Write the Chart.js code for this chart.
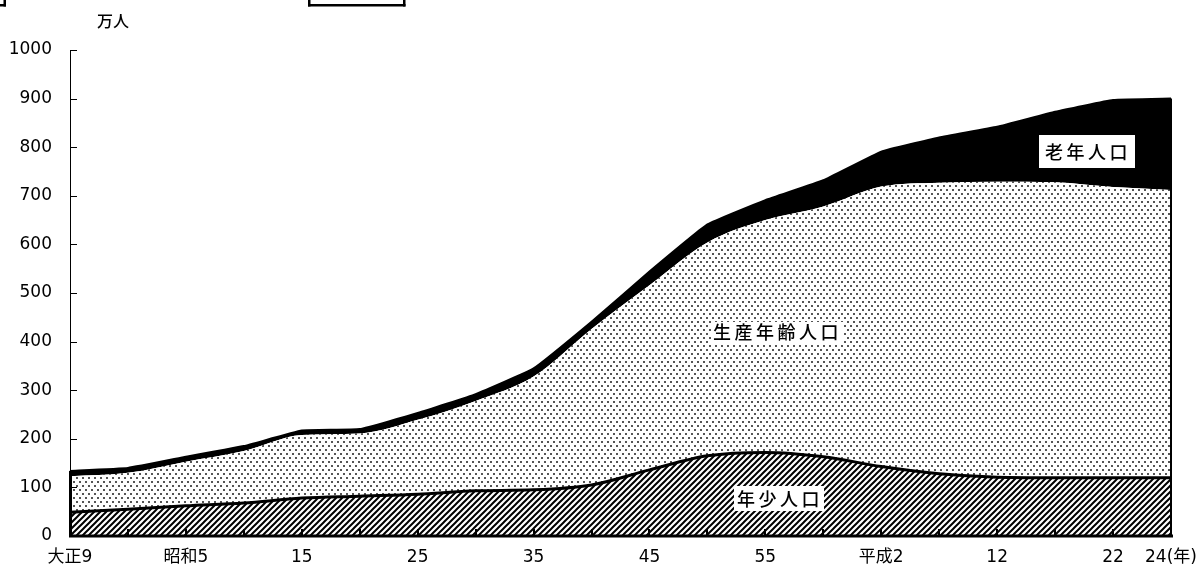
<!DOCTYPE html>
<html lang="ja">
<head>
<meta charset="utf-8">
<title>年齢3区分別人口の推移</title>
<script src="https://cdn.jsdelivr.net/npm/chart.js@4.4.0/dist/chart.umd.min.js"></script>
<style>
  html, body { margin: 0; padding: 0; background: #fff; }
  #wrap { position: relative; width: 1201px; height: 577px; }
</style>
</head>
<body>
<div id="wrap"><canvas id="c" width="1201" height="577"></canvas></div>
<script>
// 調査年（大正9年〜平成24年）
const years = ['大正9', '14', '昭和5', '10', '15', '20', '25', '30', '35', '40',
               '45', '50', '55', '60', '平成2', '7', '12', '17', '22', '24'];
// 軸に表示する目盛ラベル（空文字は非表示）
const tickLabels = ['大正9', '', '昭和5', '', '15', '', '25', '', '35', '',
                    '45', '', '55', '', '平成2', '', '12', '', '22', '24(年)'];
// 年齢3区分別人口（万人）
const youngPop   = [49, 55, 62, 68, 78, 82, 86, 93, 95, 105, 136, 165, 172, 163, 143, 128, 121, 120, 120, 120];
const workingPop = [74, 75, 91, 107, 130, 129, 153, 185, 233, 321, 380, 439, 478, 515, 576, 599, 608, 608, 598, 592];
const elderlyPop = [11, 10, 10, 10, 9, 9, 14, 14, 17, 15, 28, 37, 41, 54, 72, 93, 113, 145, 179, 188];
const seriesNames = ['年少人口', '生産年齢人口', '老年人口'];
const yTicks = { min: 0, max: 1000, step: 100 };
const unitLabel = '万人';

const canvas = document.getElementById('c');
const ctx = canvas.getContext('2d');

// 斜線ハッチ
function makeHatch() {
  const t = document.createElement('canvas');
  t.width = 6; t.height = 6;
  const g = t.getContext('2d');
  g.fillStyle = '#fff'; g.fillRect(0, 0, 6, 6);
  g.strokeStyle = '#000'; g.lineWidth = 2;
  g.beginPath();
  g.moveTo(-1, 7); g.lineTo(7, -1);
  g.moveTo(-1, 1); g.lineTo(1, -1);
  g.moveTo(5, 7); g.lineTo(7, 5);
  g.stroke();
  return ctx.createPattern(t, 'repeat');
}
// 網点
function makeDots() {
  const t = document.createElement('canvas');
  t.width = 6; t.height = 8;
  const g = t.getContext('2d');
  g.fillStyle = '#fff'; g.fillRect(0, 0, 6, 8);
  g.fillStyle = '#555';
  g.fillRect(1, 1, 2, 2);
  g.fillRect(4, 5, 2, 2);
  return ctx.createPattern(t, 'repeat');
}

const FONT = "'DejaVu Sans', 'Noto Sans CJK JP', sans-serif";

const decor = {
  id: 'decor',
  afterDatasetsDraw(chart) {
    const { ctx: c, chartArea: a, scales: { x, y } } = chart;
    const last = years.length - 1;
    const topFirst = y.getPixelForValue(youngPop[0] + workingPop[0] + elderlyPop[0]);
    const topLast = y.getPixelForValue(youngPop[last] + workingPop[last] + elderlyPop[last]);
    c.save();
    c.fillStyle = '#000';
    c.strokeStyle = '#000';
    // 縦軸
    c.lineWidth = 1;
    c.beginPath();
    c.moveTo(a.left + 0.5, a.top); c.lineTo(a.left + 0.5, a.bottom);
    c.stroke();
    // 面の左右の縁
    c.lineWidth = 3;
    c.beginPath();
    c.moveTo(a.left + 0.5, a.bottom); c.lineTo(a.left + 0.5, topFirst);
    c.stroke();
    c.lineWidth = 2;
    c.beginPath();
    c.moveTo(a.right, a.bottom); c.lineTo(a.right, topLast);
    c.stroke();
    // 縦軸目盛（内向き）
    c.lineWidth = 1;
    for (let v = yTicks.min + yTicks.step; v <= yTicks.max; v += yTicks.step) {
      const py = Math.round(y.getPixelForValue(v)) + 0.5;
      c.beginPath(); c.moveTo(a.left, py); c.lineTo(a.left + 7, py); c.stroke();
    }
    // 横軸
    c.lineWidth = 3;
    c.beginPath();
    c.moveTo(a.left - 1, a.bottom); c.lineTo(a.right + 2, a.bottom);
    c.stroke();
    // 横軸目盛（内向き）
    c.lineWidth = 2;
    for (let i = 1; i < last; i++) {
      const px = Math.round(x.getPixelForValue(i));
      c.beginPath(); c.moveTo(px, a.bottom); c.lineTo(px, a.bottom - 7); c.stroke();
    }
    c.restore();
  },
  afterDraw(chart) {
    const c = chart.ctx;
    c.save();
    // 系列名（白地ラベル）
    const boxes = [
      { text: seriesNames[2], box: [1039, 135, 96, 33], tx: 1045, ty: 152 },
      { text: seriesNames[1], box: [711, 322, 133, 21], tx: 713, ty: 332.5 },
      { text: seriesNames[0], box: [734, 486, 90, 25], tx: 737, ty: 499 }
    ];
    c.font = "500 18px 'Noto Sans CJK JP', sans-serif";
    c.letterSpacing = '3.5px';
    c.textBaseline = 'middle';
    c.textAlign = 'left';
    for (const b of boxes) {
      c.fillStyle = '#fff';
      c.fillRect(b.box[0], b.box[1], b.box[2], b.box[3]);
      c.fillStyle = '#000';
      c.fillText(b.text, b.tx, b.ty);
    }
    c.letterSpacing = '0px';
    // 単位
    c.font = "500 16px 'Noto Sans CJK JP', sans-serif";
    c.fillStyle = '#000';
    c.fillText(unitLabel, 97, 21);
    // 上端の枠線の名残
    c.fillRect(0, 4, 6, 2.5);
    c.fillRect(3.5, 0, 2.5, 6.5);
    c.fillRect(308, 0, 2.5, 6.5);
    c.fillRect(403, 0, 2.5, 6.5);
    c.fillRect(308, 4, 97.5, 2.5);
    c.restore();
  }
};

new Chart(ctx, {
  type: 'line',
  data: {
    labels: years,
    datasets: [
      {
        label: seriesNames[0], data: youngPop,
        fill: 'origin', backgroundColor: makeHatch(),
        borderColor: '#000', borderWidth: 3,
        cubicInterpolationMode: 'monotone', pointRadius: 0
      },
      {
        label: seriesNames[1], data: workingPop,
        fill: '-1', backgroundColor: makeDots(),
        borderColor: 'rgba(0,0,0,0)', borderWidth: 0,
        cubicInterpolationMode: 'monotone', pointRadius: 0
      },
      {
        label: seriesNames[2], data: elderlyPop,
        fill: '-1', backgroundColor: '#000',
        borderColor: '#000', borderWidth: 2,
        tension: 0.1, pointRadius: 0
      }
    ]
  },
  options: {
    responsive: false,
    animation: false,
    devicePixelRatio: 1,
    layout: { padding: { top: 50, right: 30, left: 0, bottom: 0 } },
    plugins: { legend: { display: false }, tooltip: { enabled: false }, title: { display: false } },
    scales: {
      x: {
        stacked: true,
        offset: false,
        grid: { display: false, drawTicks: false },
        border: { display: false },
        afterFit: s => { s.height = 41; s.paddingRight = 0; s.paddingLeft = 0; },
        ticks: {
          autoSkip: false, maxRotation: 0, minRotation: 0,
          padding: 11, color: '#000',
          font: { family: FONT, size: 17 },
          callback: (v, i) => tickLabels[i]
        }
      },
      y: {
        stacked: true,
        min: yTicks.min, max: yTicks.max,
        grid: { display: false, drawTicks: false },
        border: { display: false },
        afterFit: s => { s.width = 70; },
        ticks: {
          stepSize: yTicks.step, padding: 18, color: '#000',
          font: { family: FONT, size: 17 },
          callback: v => String(v)
        }
      }
    }
  },
  plugins: [decor]
});
</script>
</body>
</html>
